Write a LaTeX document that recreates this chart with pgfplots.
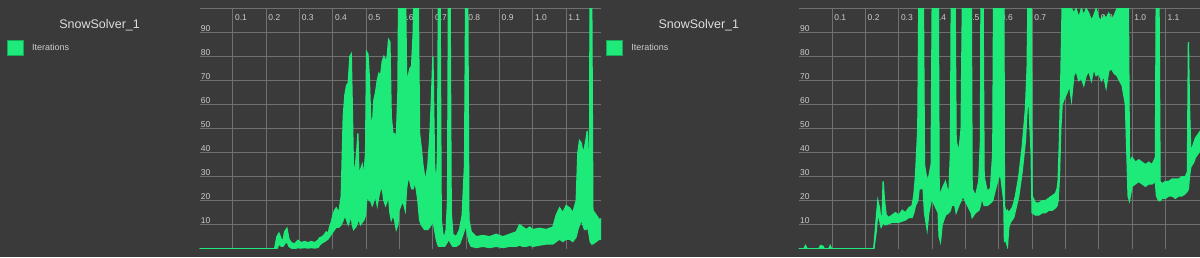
\documentclass[border=0pt]{standalone}
\usepackage{fontspec}
\setmainfont{Liberation Sans}
\usepackage{xcolor}
\usepackage{pgfplots}
\pgfplotsset{compat=1.18}
\usepackage{pgfplotstable}
\usepgfplotslibrary{fillbetween}
\definecolor{bgc}{RGB}{58,58,58}
\definecolor{gridc}{RGB}{112,112,112}
\definecolor{tickc}{RGB}{205,205,205}
\definecolor{titlec}{RGB}{222,222,222}
\definecolor{snow}{RGB}{30,234,122}
\definecolor{snowdk}{RGB}{22,170,90}

\pgfplotstableread{
x u l
0 0 0
0.225 0 0
0.232 5 0
0.238 6.5 2
0.245 4 1
0.25 3 1
0.255 7 2
0.262 8.5 3
0.268 4 1
0.275 2.5 0.3
0.285 2 0
0.295 3.5 0.5
0.305 2.5 0.3
0.315 3 0.5
0.325 2.5 0.3
0.335 3 0.5
0.345 2.5 0.3
0.355 3.5 0.5
0.36 4.5 1.5
0.368 5 2.5
0.375 6 3
0.38 7 3.5
0.385 6 4
0.39 9 5
0.395 11 6
0.40 14 7
0.405 16 8
0.41 17 9
0.418 15 9
0.425 22 10
0.431 55 12
0.436 64 14
0.441 68 12
0.446 69 10
0.451 80 12
0.455 81 14
0.458 60 10
0.462 30 8
0.468 35 9
0.472 42 10
0.475 48 12
0.478 30 12
0.483 33 10
0.488 35 11
0.493 30 12
0.498 40 14
0.501 82 20
0.505 81 22
0.509 72 20
0.513 55 20
0.518 50 18
0.523 62 20
0.528 65 22
0.533 70 18
0.538 73 22
0.543 72 25
0.548 78 25
0.553 80 20
0.558 78 18
0.563 80 20
0.567 87 22
0.571 86 15
0.575 55 12
0.58 48 14
0.585 48 12
0.59 45 8
0.595 65 10
0.598 120 16
0.61 120 20
0.617 120 16
0.621 70 25
0.626 72 30
0.631 75 28
0.636 76 25
0.641 90 25
0.645 120 28
0.65 120 25
0.655 120 20
0.66 48 12
0.665 42 10
0.67 35 9
0.675 30 8
0.68 30 8
0.685 35 8
0.69 45 9
0.695 60 10
0.70 80 12
0.705 35 8
0.71 25 4
0.714 40 2
0.717 120 1
0.721 120 1
0.725 12 1
0.73 6 1
0.735 5 1
0.74 8 2
0.744 20 3
0.747 120 4
0.751 120 3
0.755 15 2
0.76 6 1
0.77 5 1
0.78 8 2
0.788 14 5
0.795 35 8
0.799 120 10
0.804 120 6
0.808 12 3
0.815 7 1
0.83 5 0.5
0.85 5.5 1
0.87 5 0.5
0.89 6 1
0.91 5 0.5
0.93 6 1
0.95 7 1
0.96 10 1.5
0.97 9 1
0.98 8 1
0.99 9 1.5
1.0 8 1
1.02 8.5 1.5
1.04 8 2
1.06 9 2
1.07 14 3
1.08 17 4
1.09 15 3
1.10 18 4
1.11 17 4
1.12 15 3
1.13 20 5
1.135 40 8
1.14 45 10
1.145 44 12
1.15 40 10
1.155 42 8
1.16 46 8
1.163 49 10
1.166 38 8
1.17 35 5
1.172 120 3
1.176 120 2
1.18 16 2
1.19 14 3
1.2 12 4
1.21 13 4
}\leftdata

\pgfplotstableread{
x u l
0 0 0
0.015 0 0
0.02 1.3 0
0.025 0 0
0.06 0 0
0.065 1.3 0
0.072 1.1 0
0.076 0 0
0.09 0 0
0.094 1.3 0
0.098 0 0
0.225 0 0
0.232 12 7
0.237 20 15
0.242 17 12
0.247 11 9
0.25 14 10
0.253 28 12
0.257 20 10
0.262 14 10
0.27 13 10.5
0.28 14 11
0.29 15 11
0.30 14 11
0.31 16 11.5
0.32 15 12
0.33 17 13
0.34 18 13
0.345 22 15
0.35 30 18
0.357 50 20
0.361 120 25
0.373 120 25
0.377 35 15
0.385 28 8
0.39 30 15
0.397 35 20
0.401 120 20
0.418 120 15
0.421 25 5
0.425 22 3
0.43 25 10
0.44 28 14
0.45 22 15
0.455 40 16
0.458 120 18
0.468 120 18
0.472 45 15
0.48 40 18
0.487 50 20
0.492 120 22
0.517 120 15
0.52 25 13
0.53 22 15
0.54 28 16
0.545 45 18
0.547 120 20
0.552 120 20
0.556 30 18
0.565 24 18
0.575 25 19
0.582 40 20
0.585 120 22
0.6 120 30
0.603 60 30
0.606 120 30
0.615 120 20
0.617 18 3
0.622 15 3
0.626 16 1
0.63 15 9
0.635 16 11
0.64 17 12
0.645 19 13
0.65 22 16
0.66 30 22
0.67 42 32
0.68 58 45
0.685 75 58
0.689 120 65
0.697 120 40
0.70 22 15
0.71 19 14
0.72 19 14
0.73 20 15
0.74 20 15
0.75 21 16
0.76 22 16
0.77 23 17
0.775 25 18
0.778 28 20
0.782 45 30
0.786 70 50
0.79 100 60
0.795 120 62
0.805 120 65
0.812 110 68
0.818 100 62
0.825 98 72
0.832 100 74
0.84 96 70
0.848 100 71
0.855 97 68
0.862 100 72
0.87 98 74
0.878 95 70
0.885 97 75
0.892 100 72
0.90 96 73
0.908 95 70
0.915 97 72
0.922 96 67
0.93 98 74
0.938 95 75
0.946 97 73
0.955 100 72
0.962 110 70
0.97 120 68
0.98 120 60
0.988 120 22
0.992 36 20
1.0 38 26
1.01 36 27
1.02 37 28
1.03 36 27
1.04 35 26
1.05 36 27
1.06 35 27
1.07 38 28
1.073 120 22
1.08 120 20
1.084 28 20
1.09 27 21
1.10 28 21
1.11 28 22
1.12 29 22
1.13 29 21
1.14 29 22
1.15 30 22
1.16 30 23
1.166 32 24
1.169 86 25
1.172 60 30
1.176 40 34
1.185 44 36
1.19 46 38
1.2 48 40
1.21 50 42
}\rightdata

\pgfplotsset{
  snowaxis/.style={
    set layers,
    scale only axis,
    width=402.5pt, height=240.8pt,
    xmin=0, xmax=1.205, ymin=0, ymax=100,
    axis line style={draw=none},
    major tick length=0pt,
    xtick={0.1,0.2,0.3,0.4,0.5,0.6,0.7,0.8,0.9,1.0,1.1},
    xticklabels={0.1,0.2,0.3,0.4,0.5,0.6,0.7,0.8,0.9,1.0,1.1},
    ytick={10,20,30,40,50,60,70,80,90,100},
    yticklabels={10,20,30,40,50,60,70,80,90,{}},
    /pgf/number format/assume math mode=true,
    grid=major,
    major grid style={draw=gridc, line width=1pt},
    xticklabel pos=upper,
    xticklabel style={anchor=north west, inner sep=0pt, xshift=2pt, yshift=-5.7pt,
      font=\fontsize{8.5}{10}\selectfont, text=tickc},
    yticklabel style={anchor=south west, inner sep=0pt, xshift=1pt, yshift=1pt,
      font=\fontsize{8.5}{10}\selectfont, text=tickc},
    title style={at={(-0.249,0.890)}, anchor=base, inner sep=0pt, yshift=0pt,
      font=\fontsize{12.5}{14}\selectfont, text=titlec},
    legend style={at={(-0.480,0.869)}, anchor=north west, draw=none, fill=none,
      inner sep=0pt, outer sep=0pt, nodes={inner sep=0pt, text=tickc},
      font=\fontsize{9}{10}\selectfont,
      /tikz/every odd column/.append style={column sep=8.5pt}},
    legend cell align=left,
  }
}

\begin{document}
\pagecolor{bgc}
\begin{tikzpicture}[x=1pt,y=1pt]
\path (0,0) rectangle (1200,258);
\begin{axis}[snowaxis, at={(197.3pt,8.7pt)}, anchor=south west, title={SnowSolver\_1}]
\addlegendimage{legend image code/.code={\path (0pt,-15.5pt); \draw[fill=snow, draw=snowdk, line width=0.8pt] (0pt,-7.5pt) rectangle (16pt,7.5pt);}}
\addlegendentry{Iterations}
\addplot[name path=lu, draw=snow, line width=1.3pt, forget plot] table[x=x, y=u] {\leftdata};
\addplot[name path=ll, draw=snow, line width=1.3pt, forget plot] table[x=x, y=l] {\leftdata};
\addplot[fill=snow, forget plot] fill between[of=lu and ll];
\end{axis}
\begin{axis}[snowaxis, at={(797.9pt,8.7pt)}, anchor=south west, title={SnowSolver\_1}]
\addlegendimage{legend image code/.code={\path (0pt,-15.5pt); \draw[fill=snow, draw=snowdk, line width=0.8pt] (0pt,-7.5pt) rectangle (16pt,7.5pt);}}
\addlegendentry{Iterations}
\addplot[name path=ru, draw=snow, line width=1.3pt, forget plot] table[x=x, y=u] {\rightdata};
\addplot[name path=rl, draw=snow, line width=1.3pt, forget plot] table[x=x, y=l] {\rightdata};
\addplot[fill=snow, forget plot] fill between[of=ru and rl];
\end{axis}
\pgfresetboundingbox
\path[use as bounding box] (0,0) rectangle (1200,258);
\end{tikzpicture}
\end{document}
